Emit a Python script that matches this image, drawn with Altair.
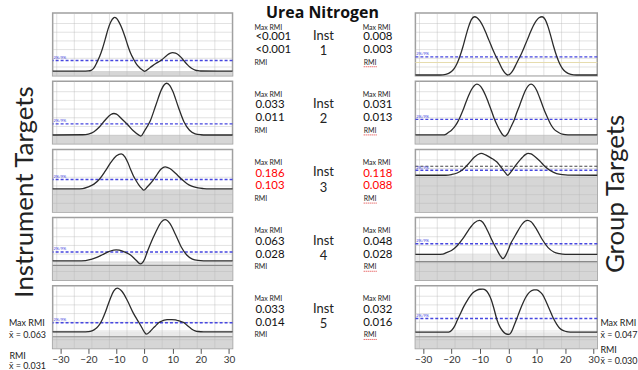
import altair as alt
import pandas as pd

# ---- shared axes -------------------------------------------------------
X_DOMAIN = [-32.7, 31.3]
Y_DOMAIN = [0, 7.2]
GRID_X = [-31.25, -25, -18.75, -12.5, -6.25, 0, 6.25, 12.5, 18.75, 25]
GRID_Y = [1, 2, 3, 4, 5, 6]
TICKS_X = [-30, -20, -10, 0, 10, 20, 30]

# ---- instrument-target curves (bias, relative height) -------------------
CURVE_L1 = [(-32.7, 0.53), (-22, 0.53), (-20, 0.55), (-19, 0.62), (-18, 0.9), (-17, 1.5),
            (-16, 2.2), (-15, 3.1), (-14, 4.2), (-13, 5.35), (-12, 6.2), (-11, 6.65),
            (-10.7, 6.7), (-10, 6.6), (-9, 6.1), (-8, 5.4), (-7, 4.5), (-6, 3.5), (-5, 2.6),
            (-4, 1.95), (-3, 1.4), (-2, 1.0), (-1, 0.7), (0, 0.5), (2, 0.95), (4, 1.4),
            (6, 1.8), (8, 2.35), (9, 2.57), (10, 2.65), (11, 2.6), (12, 2.42), (13, 2.1),
            (14, 1.72), (15, 1.35), (16, 1.02), (17, 0.8), (18, 0.65), (19, 0.57), (20, 0.54),
            (31.3, 0.53)]
CURVE_L2 = [(-32.7, 1.02), (-22, 1.05), (-20, 1.13), (-18, 1.4), (-16, 1.96), (-14, 2.75),
            (-12, 3.38), (-10.9, 3.49), (-10, 3.42), (-8, 2.83), (-6, 2.2), (-4, 1.5),
            (-2, 1.0), (-1.3, 0.9), (0, 1.5), (2, 2.62), (4, 4.44), (6, 6.24), (7, 6.8),
            (7.9, 6.97), (9, 6.7), (10, 6.08), (12, 4.25), (14, 2.55), (16, 1.56), (18, 1.16),
            (20, 1.05), (22, 1.02), (31.3, 1.02)]
CURVE_L3 = [(-32.7, 2.67), (-24, 2.67), (-22, 2.7), (-20, 2.89), (-18, 3.21), (-16, 3.8),
            (-14, 4.7), (-12, 5.7), (-10, 6.46), (-8.3, 6.7), (-7, 6.35), (-6, 5.72),
            (-5, 4.93), (-4, 4.18), (-3, 3.6), (-2, 3.1), (-1, 2.72), (-0.3, 2.51), (1, 2.9),
            (2, 3.25), (3, 3.65), (4, 4.1), (5, 4.6), (6, 4.98), (7.3, 5.19), (9, 5.0),
            (11, 4.45), (13, 3.83), (15, 3.29), (17, 2.95), (19, 2.77), (21, 2.7), (23, 2.67),
            (31.3, 2.67)]
CURVE_L4 = [(-32.7, 2.22), (-24, 2.22), (-21, 2.26), (-19, 2.4), (-17, 2.62), (-15, 2.93),
            (-13, 3.26), (-11, 3.47), (-10.1, 3.5), (-9, 3.45), (-7, 3.23), (-5, 2.9),
            (-3, 2.3), (-1.5, 1.87), (0, 2.4), (1, 3.3), (2, 4.12), (4, 5.55), (6, 6.71),
            (7.3, 6.97), (9, 6.54), (11, 5.26), (13, 3.85), (15, 2.9), (17, 2.43), (19, 2.27),
            (21, 2.23), (31.3, 2.22)]
CURVE_L5 = [(-32.7, 1.9), (-22, 1.9), (-20, 1.93), (-19, 1.98), (-18, 2.13), (-17, 2.37),
            (-16, 2.76), (-15, 3.35), (-14, 4.12), (-13, 5.02), (-12, 5.88), (-11, 6.58),
            (-9.75, 6.94), (-8, 6.54), (-6, 5.42), (-4, 4.06), (-3, 3.5), (-2, 2.98),
            (-1, 2.4), (0, 1.85), (0.6, 1.63), (2, 1.95), (3, 2.3), (4, 2.62), (5, 2.94),
            (6, 3.12), (7, 3.24), (8, 3.3), (9.7, 3.31), (11, 3.27), (12, 3.18), (13, 3.08),
            (14, 2.96), (15, 2.68), (16, 2.42), (17, 2.17), (18, 2.02), (19, 1.94), (21, 1.9),
            (31.3, 1.9)]

# ---- group-target curves -------------------------------------------------
CURVE_R1 = [(-32.7, 0.08), (-25, 0.08), (-23, 0.1), (-22, 0.15), (-21, 0.27), (-20, 0.48),
            (-19, 0.84), (-18, 1.42), (-17, 2.26), (-16, 3.3), (-15, 4.5), (-14, 5.61),
            (-13, 6.45), (-11.9, 6.78), (-11, 6.67), (-10, 6.3), (-9, 5.74), (-8, 5.02),
            (-7, 4.22), (-6, 3.43), (-5, 2.67), (-4, 2.0), (-3, 1.35), (-2, 0.7), (-1, 0.25),
            (-0.2, 0.08), (0.8, 0.25), (1.8, 0.7), (2.8, 1.35), (3.8, 2.0), (4.8, 2.67),
            (5.8, 3.43), (6.8, 4.22), (7.8, 5.02), (8.8, 5.74), (9.8, 6.3), (10.8, 6.67),
            (11.9, 6.78), (13, 6.45), (14, 5.61), (15, 4.5), (16, 3.3), (17, 2.26), (18, 1.42),
            (19, 0.84), (20, 0.48), (21, 0.27), (22, 0.15), (23, 0.1), (25, 0.08), (31.3, 0.08)]
CURVE_R2 = [(-32.7, 1.03), (-23, 1.03), (-22, 1.1), (-21, 1.33), (-20, 1.57), (-19, 1.92),
            (-18, 2.41), (-17, 3.07), (-16, 3.83), (-15, 4.7), (-14, 5.53), (-13, 6.22),
            (-12, 6.69), (-11.05, 6.86), (-10, 6.7), (-9, 6.24), (-8, 5.56), (-7, 4.74),
            (-6, 3.87), (-5, 2.95), (-4, 2.2), (-3, 1.55), (-2, 1.05), (-1.3, 0.88), (0, 1.3),
            (1, 2.0), (2, 2.7), (3, 3.6), (4, 4.45), (5, 5.33), (6, 6.14), (7, 6.67), (8, 6.86),
            (9, 6.67), (10, 6.14), (11, 5.33), (12, 4.45), (13, 3.6), (14, 2.88), (15, 2.2),
            (16, 1.73), (17, 1.44), (18, 1.25), (19, 1.12), (20, 1.06), (22, 1.03), (31.3, 1.03)]
CURVE_R3 = [(-32.7, 4.23), (-22, 4.23), (-20, 4.31), (-18, 4.49), (-16, 4.9), (-14, 5.56),
            (-12, 6.29), (-10, 6.72), (-9.5, 6.74), (-8, 6.57), (-6, 6.2), (-5, 6.0),
            (-4, 5.75), (-3, 5.35), (-2, 4.92), (-1, 4.5), (-0.2, 4.23), (1, 4.65), (2, 5.1),
            (3, 5.55), (4, 5.94), (5, 6.3), (6, 6.6), (7, 6.74), (8, 6.68), (9, 6.48),
            (11, 5.9), (13, 5.2), (15, 4.72), (17, 4.43), (19, 4.3), (21, 4.25), (31.3, 4.23)]
CURVE_R4 = [(-32.7, 2.97), (-25, 2.97), (-23, 3.0), (-22, 3.14), (-20, 3.42), (-18, 3.97),
            (-16, 4.78), (-14, 5.77), (-12, 6.59), (-10.1, 6.89), (-9, 6.67), (-8, 6.15),
            (-7, 5.48), (-6, 4.76), (-5, 4.1), (-4, 3.5), (-3, 2.9), (-1.9, 2.48), (-1, 2.8),
            (0, 3.5), (0.8, 4.19), (2, 4.88), (3, 5.47), (4, 6.03), (5, 6.5), (6, 6.81),
            (6.8, 6.89), (8, 6.72), (10, 5.82), (12, 4.65), (14, 3.75), (16, 3.25), (18, 3.05),
            (20, 2.98), (31.3, 2.97)]
CURVE_R5 = [(-32.7, 1.86), (-22, 1.86), (-21, 1.88), (-20, 2.05), (-19, 2.5), (-18, 3.2),
            (-17, 3.9), (-16, 4.6), (-15, 5.2), (-14, 5.75), (-13, 6.2), (-12, 6.5), (-11, 6.7),
            (-10, 6.8), (-8.95, 6.82), (-8, 6.7), (-7, 6.3), (-6, 5.6), (-5, 4.5), (-4, 3.3),
            (-3, 2.5), (-2, 2.0), (-1, 1.7), (0.2, 1.6), (1, 1.85), (2, 2.6), (3, 3.43),
            (4, 4.3), (5, 5.1), (6, 5.8), (7, 6.3), (8, 6.6), (9, 6.72), (9.5, 6.74), (10, 6.72),
            (11, 6.55), (12, 6.2), (13, 5.6), (14, 4.85), (15, 4.1), (15.9, 3.43), (17, 2.8),
            (18, 2.35), (19, 2.1), (20, 1.97), (21, 1.9), (22.6, 1.87), (31.3, 1.86)]

# limit lines (blue dashed) per panel
DASH_LEFT = [1.74, 2.3, 3.74, 3.25, 2.94]
DASH_RIGHT = [2.17, 2.82, 4.8, 4.19, 3.43]

# shaded regions: (from, to, fill)
DARK, LIGHT = "#d6d6d6", "#e9e9e9"
BANDS_LEFT = [
    [(0, 0.53, DARK)],
    [(0, 1.02, DARK)],
    [(0, 2.62, DARK)],
    [(0, 1.71, DARK), (1.71, 2.22, LIGHT)],
    [(0, 1.34, DARK), (1.34, 1.9, LIGHT)],
]
BANDS_RIGHT = [
    [(0, 0.08, DARK)],
    [(0, 1.03, DARK)],
    [(0, 4.11, DARK)],
    [(0, 2.14, DARK), (2.14, 2.97, LIGHT)],
    [(0, 1.34, DARK), (1.34, 1.86, LIGHT)],
]
# extra reference lines: (level, colour, dashed)
LINES_LEFT = [[], [], [], [(1.71, "#8a8a8a", False)], [(1.34, "#8a8a8a", False)]]
LINES_RIGHT = [[(1.52, "#e6dcae", False)], [], [(5.26, "#444444", True)],
               [(2.14, "#8a8a8a", False)], [(1.34, "#8a8a8a", False)]]

# ---- table values ----------------------------------------------------------
INSTRUMENTS = ["1", "2", "3", "4", "5"]
MAX_RMI_INST = ["<0.001", "0.033", "0.186", "0.063", "0.033"]
RMI_INST = ["<0.001", "0.011", "0.103", "0.028", "0.014"]
MAX_RMI_GROUP = ["0.008", "0.031", "0.118", "0.048", "0.032"]
RMI_GROUP = ["0.003", "0.013", "0.088", "0.028", "0.016"]
FLAGGED = [False, False, True, False, False]

FONT = "Lato"
BLUE = "#4747e0"
INK = "#222222"
PANEL_H = 63
GAP = 5.6
W_SIDE_L, W_LEFT, W_MID, W_RIGHT, W_SIDE_R = 50, 181, 184, 183, 40
NO_FRAME = alt.ViewBackground(stroke="transparent", strokeWidth=0)
one = pd.DataFrame({"a": [0]})


def panel(curve, bands, dash, lines, width, bottom):
    xs = alt.Scale(domain=X_DOMAIN, nice=False, zero=False)
    ys = alt.Scale(domain=Y_DOMAIN, nice=False, zero=False)
    xaxis = alt.Axis(values=TICKS_X, grid=False, domain=False, tickSize=5,
                     tickColor="#555", labelColor="#333", labelFont=FONT,
                     labelFontSize=10, labelPadding=1, title=None) if bottom else None

    def X(f):
        return alt.X(f, type="quantitative", scale=xs, axis=xaxis, title=None)

    def Y(f):
        return alt.Y(f, type="quantitative", scale=ys, axis=None, title=None)

    layers = []
    bdf = pd.DataFrame(bands, columns=["y0", "y1", "fill"])
    layers.append(alt.Chart(bdf).mark_rect().encode(
        x=alt.value(0), x2=alt.value(width), y=Y("y0"), y2=alt.Y2("y1"),
        color=alt.Color("fill:N", scale=None)))
    layers.append(alt.Chart(pd.DataFrame({"gx": GRID_X})).mark_rule(
        color="#b5b5b5", opacity=0.4, strokeWidth=1).encode(x=X("gx")))
    layers.append(alt.Chart(pd.DataFrame({"gy": GRID_Y})).mark_rule(
        color="#b5b5b5", opacity=0.4, strokeWidth=1).encode(y=Y("gy")))
    for level, col, dashed in lines:
        kw = {"strokeDash": [3, 2]} if dashed else {}
        layers.append(alt.Chart(pd.DataFrame({"v": [level]})).mark_rule(
            color=col, strokeWidth=1.1, **kw).encode(y=Y("v")))
    ddf = pd.DataFrame({"d": [dash], "lx": [-32.4]})
    layers.append(alt.Chart(ddf).mark_rule(
        color=BLUE, strokeDash=[3, 2], strokeWidth=1.4).encode(y=Y("d")))
    layers.append(alt.Chart(ddf).mark_text(
        text="2%/9%", fontSize=4, color=BLUE, align="left", baseline="bottom",
        dy=-0.5, font=FONT).encode(x=X("lx"), y=Y("d")))
    cdf = pd.DataFrame(curve, columns=["x", "y"])
    layers.append(alt.Chart(cdf).mark_line(
        color="#2b2b2b", strokeWidth=1.3, interpolate="monotone").encode(
        x=X("x"), y=Y("y")))
    return alt.layer(*layers).properties(
        width=width, height=PANEL_H,
        view=alt.ViewBackground(stroke="#a0a0a0", strokeWidth=1.5))


def label(text, x, y, size, align="left", angle=0, color=INK, weight="normal",
          baseline="middle", font=FONT):
    return alt.Chart(one).mark_text(
        text=text, fontSize=size, font=font, align=align, baseline=baseline,
        angle=angle, color=color, fontWeight=weight).encode(
        x=alt.value(x), y=alt.value(y))


def blank():
    return alt.Chart(one).mark_point(opacity=0).encode(x=alt.value(0), y=alt.value(0))


def cell(layers, width):
    if not layers:
        layers = [blank()]
    return alt.layer(*layers).properties(width=width, height=PANEL_H, view=NO_FRAME)


def mid_cell(k):
    red = "#ff0000" if FLAGGED[k] else "#111111"
    top_y = 14.8 if k == 0 else 13.8
    layers = [
        label("Max RMI", 22, top_y, 7),
        label(MAX_RMI_INST[k], 23, 24.4, 11.5, color=red),
        label(RMI_INST[k], 23, 37.2, 11.5, color=red),
        label("RMI", 22, 50, 7),
        label("Inst", 91.5, 23.2, 13, align="center"),
        label(INSTRUMENTS[k], 91.5, 38.5, 13, align="center"),
        label("Max RMI", 131, top_y, 7),
        label(MAX_RMI_GROUP[k], 131.5, 24.4, 11.5, color=red),
        label(RMI_GROUP[k], 131.5, 37.2, 11.5, color=red),
        label("RMI", 132, 50, 7),
        # red squiggle under the right-hand "RMI"
        alt.Chart(one).mark_rule(color="#e03030", strokeDash=[1, 1], strokeWidth=1).encode(
            x=alt.value(132), x2=alt.value(146), y=alt.value(54)),
    ]
    if k == 0:
        layers.append(label("Urea Nitrogen", 90.5, 5, 16, align="center",
                            color="#111", weight="bold", baseline="alphabetic",
                            font="Open Sans"))
        # invisible marker fixing the top margin of the figure
        layers.append(alt.Chart(one).mark_rule(opacity=0).encode(
            x=alt.value(0), x2=alt.value(10), y=alt.value(-12)))
    return cell(layers, W_MID)


def side_left(k):
    layers = []
    if k == 2:
        layers.append(label("Instrument Targets", 22.5, 42.8, 26, align="center", angle=270))
    if k == 4:
        layers += [label("Max RMI", 6, 37.9, 9),
                   label("x\u0304 = 0.063", 6, 49.6, 9),
                   label("RMI", 6.5, 70.6, 9),
                   label("x\u0304 = 0.031", 6, 80.6, 9)]
    return cell(layers, W_SIDE_L)


def side_right(k):
    layers = []
    if k == 2:
        layers.append(label("Group Targets", 19, 44.8, 26, align="center", angle=270))
    if k == 4:
        layers += [label("Max RMI", 3.2, 37.9, 9),
                   label("x\u0304 = 0.047", 3.2, 49.6, 9),
                   label("RMI", 3.2, 64.6, 9),
                   label("x\u0304 = 0.030", 3.2, 75.3, 9)]
    return cell(layers, W_SIDE_R)


LEFT = [CURVE_L1, CURVE_L2, CURVE_L3, CURVE_L4, CURVE_L5]
RIGHT = [CURVE_R1, CURVE_R2, CURVE_R3, CURVE_R4, CURVE_R5]

cells = []
for k in range(5):
    cells += [
        side_left(k),
        panel(LEFT[k], BANDS_LEFT[k], DASH_LEFT[k], LINES_LEFT[k], W_LEFT, k == 4),
        mid_cell(k),
        panel(RIGHT[k], BANDS_RIGHT[k], DASH_RIGHT[k], LINES_RIGHT[k], W_RIGHT, k == 4),
        side_right(k),
    ]

chart = alt.concat(
    *cells, columns=5, spacing=alt.RowColnumber(row=GAP, column=0),
    bounds="flush", align="each",
).properties(padding=0, background="white").configure_view(stroke="transparent")

chart.save("out.html", embed_options={"renderer": "svg", "actions": False})
